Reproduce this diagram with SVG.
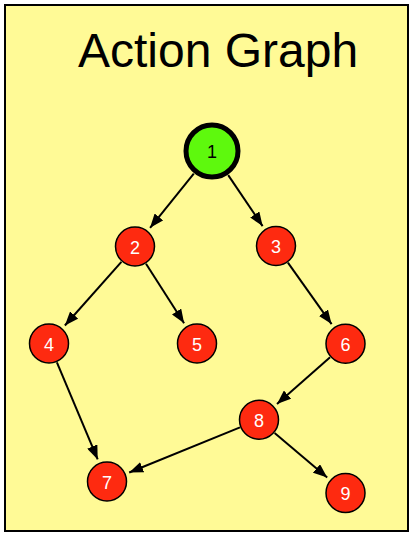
<svg xmlns="http://www.w3.org/2000/svg" width="414" height="536" viewBox="0 0 414 536">
  <style>
    .node circle { fill: #fe2a10; stroke: #000; stroke-width: 1.5; }
    .node text { fill: #fff; font-family: "Liberation Sans", Arial, sans-serif; font-size: 18px; text-anchor: middle; }
    #n1 circle { fill: #5ef90d; stroke-width: 5; }
    #n1 text { fill: #000; }
    .edge { stroke: #000; stroke-width: 2; fill: none; marker-end: url(#arrow); }
    .title { font-family: "Liberation Sans", Arial, sans-serif; font-size: 48px; fill: #000; }
  </style>
  <defs>
    <marker id="arrow" markerUnits="userSpaceOnUse" markerWidth="14" markerHeight="11" refX="14" refY="5.5" orient="auto">
      <path d="M0,0 L14,5.5 L0,11 z" fill="#000"/>
    </marker>
  </defs>
  <rect x="5" y="5" width="403" height="526" fill="#fffa96" stroke="#000" stroke-width="2"/>
  <text class="title" x="78" y="67">Action Graph</text>
  <g id="connectors">
    <line class="edge" x1="193.8" y1="173.6" x2="150.1" y2="227.8"/>
    <line class="edge" x1="228.2" y1="175.1" x2="262.6" y2="226.1"/>
    <line class="edge" x1="121.4" y1="261.8" x2="64.9" y2="325.5"/>
    <line class="edge" x1="146.0" y1="263.8" x2="184.1" y2="323.3"/>
    <line class="edge" x1="287.9" y1="262.7" x2="331.6" y2="324.1"/>
    <line class="edge" x1="56.9" y1="362.4" x2="97.7" y2="459.4"/>
    <line class="edge" x1="330.1" y1="357.2" x2="277.0" y2="403.9"/>
    <line class="edge" x1="240.0" y1="427.4" x2="129.2" y2="472.5"/>
    <line class="edge" x1="274.6" y1="433.0" x2="327.2" y2="477.5"/>
  </g>
  <g id="n1" class="node"><circle cx="212" cy="151" r="26"/><text x="212" y="158">1</text></g>
  <g id="n2" class="node"><circle cx="135" cy="246.5" r="19.5"/><text x="135" y="253.5">2</text></g>
  <g id="n3" class="node"><circle cx="276" cy="246" r="19.5"/><text x="276" y="253">3</text></g>
  <g id="n4" class="node"><circle cx="49" cy="343.5" r="19.5"/><text x="49" y="350.5">4</text></g>
  <g id="n5" class="node"><circle cx="197" cy="343.5" r="19.5"/><text x="197" y="350.5">5</text></g>
  <g id="n6" class="node"><circle cx="345.5" cy="343.7" r="19.5"/><text x="345.5" y="350.7">6</text></g>
  <g id="n7" class="node"><circle cx="107" cy="481.5" r="19.5"/><text x="107" y="488.5">7</text></g>
  <g id="n8" class="node"><circle cx="259" cy="419.7" r="19.5"/><text x="259" y="426.7">8</text></g>
  <g id="n9" class="node"><circle cx="345.5" cy="493" r="19.5"/><text x="345.5" y="500">9</text></g>
</svg>
